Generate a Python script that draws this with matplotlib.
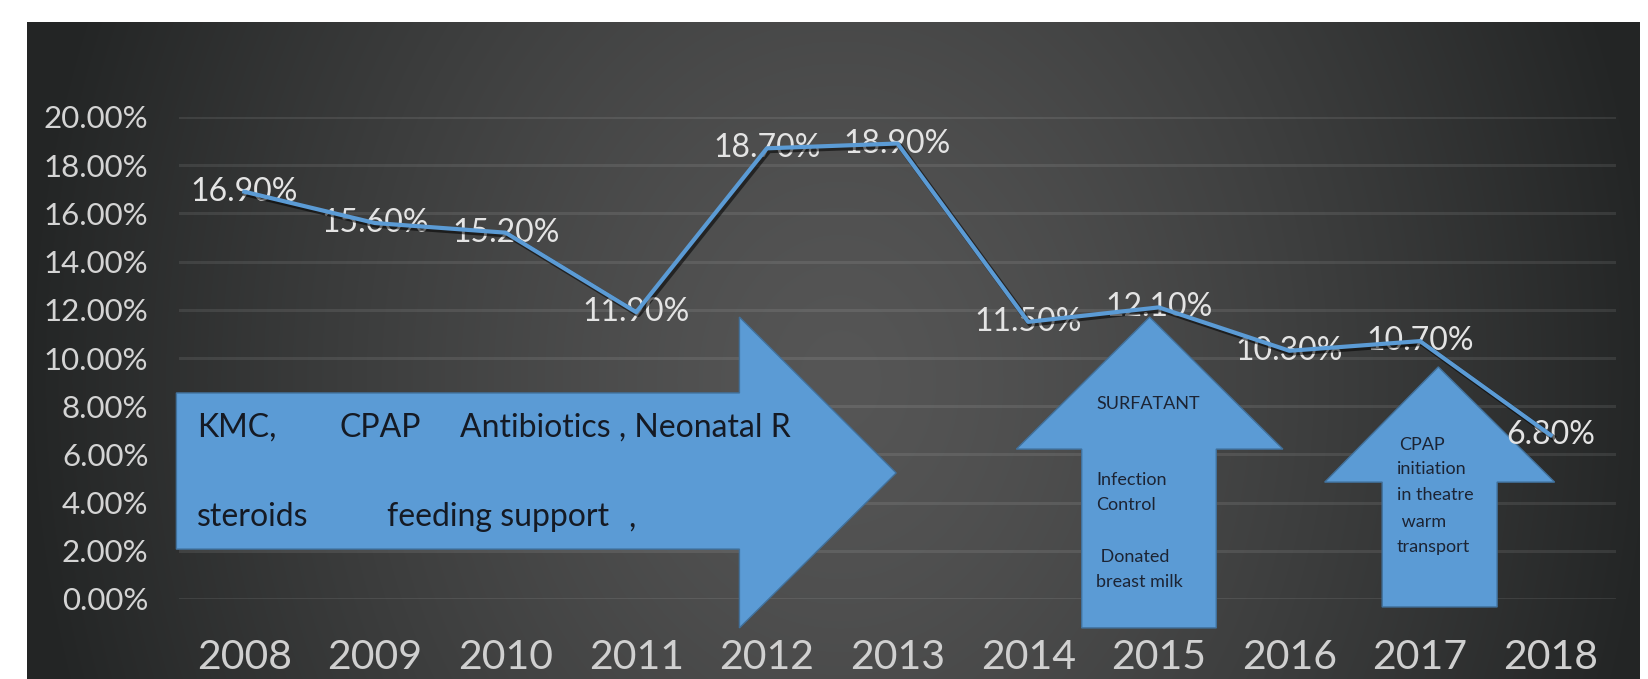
import numpy as np
import matplotlib
matplotlib.use("Agg")
import matplotlib.pyplot as plt
from matplotlib.patches import Polygon
import matplotlib.patheffects as pe

# ---------------- data ----------------
years = ["2008", "2009", "2010", "2011", "2012", "2013", "2014", "2015", "2016", "2017", "2018"]
rates = [16.9, 15.6, 15.2, 11.9, 18.7, 18.9, 11.5, 12.1, 10.3, 10.7, 6.8]
yticks = [0, 2, 4, 6, 8, 10, 12, 14, 16, 18, 20]

big_arrow_texts = [
    ("KMC,", -0.36, 7.10),
    ("CPAP", 0.73, 7.10),
    ("Antibiotics , Neonatal R", 1.65, 7.10),
    ("steroids", -0.36, 3.40),
    ("feeding support", 1.09, 3.40),
    (",", 2.94, 3.40),
]
arrow1_texts = [
    ("SURFATANT", 6.52, 8.1),
    ("Infection", 6.52, 4.95),
    ("Control", 6.52, 3.9),
    (" Donated", 6.52, 1.75),
    ("breast milk", 6.52, 0.7),
]
arrow2_texts = [
    ("CPAP", 8.84, 6.4),
    ("initiation", 8.82, 5.4),
    ("in theatre", 8.82, 4.3),
    (" warm", 8.82, 3.2),
    ("transport", 8.82, 2.15),
]

FONT = ["Lato", "DejaVu Sans"]
W, H = 1648, 679
fig = plt.figure(figsize=(W / 100, H / 100), dpi=100, facecolor="white")

# ---------------- dark gradient panel ----------------
px0, px1, py0, py1 = 27, 1640, 22, 679
bg = fig.add_axes([px0 / W, 0, (px1 - px0) / W, (py1 - py0) / H])
bg.set_axis_off()
xx, yy = np.meshgrid(np.arange(px0, px1), np.arange(py0, py1))
d = np.sqrt(((xx - 840) / 820.0) ** 2 + ((yy - 380) / 1000.0) ** 2)
t = np.clip(d, 0, 1) ** 1.3
c_in = np.array([0x56, 0x56, 0x56]) / 255.0
c_out = np.array([0x23, 0x25, 0x25]) / 255.0
img = c_in[None, None, :] * (1 - t[..., None]) + c_out[None, None, :] * t[..., None]
bg.imshow(img, aspect="auto", extent=[0, 1, 0, 1], origin="upper")
bg.set_xlim(0, 1)
bg.set_ylim(0, 1)

# ---------------- main axes ----------------
ax = fig.add_axes([179 / W, (H - 599) / H, (1616 - 179) / W, (599 - 117) / H])
ax.set_facecolor("none")
x = np.arange(len(years))
ax.set_xlim(-0.5, len(years) - 0.5)
ax.set_ylim(0, 20)
for s in ax.spines.values():
    s.set_visible(False)
ax.set_yticks(yticks)
ax.set_yticklabels([f"{v:.2f}%" for v in yticks], fontsize=22.5, color="#d4d4d4", family=FONT)
ax.set_xticks(x)
ax.set_xticklabels(years, fontsize=29.5, color="#d0d0d0", family=FONT)
ax.tick_params(axis="y", length=0, pad=22)
ax.tick_params(axis="x", length=0, pad=29)
ax.grid(axis="y", color="#ffffff", alpha=0.09, linewidth=2.2)
ax.set_axisbelow(True)

ARROW_FC = "#5b9bd5"
ARROW_EC = "#41719c"

# big right arrow
big = [(-0.52, 8.55), (3.79, 8.55), (3.79, 11.70), (4.99, 5.23),
       (3.79, -1.20), (3.79, 2.07), (-0.52, 2.07)]
ax.add_patch(Polygon(big, closed=True, facecolor=ARROW_FC, edgecolor=ARROW_EC,
                     linewidth=1.0, clip_on=False, zorder=2))
# up arrow 2015
up1 = [(6.93, 11.70), (7.95, 6.22), (7.44, 6.22), (7.44, -1.20),
       (6.41, -1.20), (6.41, 6.22), (5.91, 6.22)]
ax.add_patch(Polygon(up1, closed=True, facecolor=ARROW_FC, edgecolor=ARROW_EC,
                     linewidth=1.0, clip_on=False, zorder=2))
# up arrow 2017
up2 = [(9.14, 9.63), (10.03, 4.85), (9.59, 4.85), (9.59, -0.33),
       (8.71, -0.33), (8.71, 4.85), (8.27, 4.85)]
ax.add_patch(Polygon(up2, closed=True, facecolor=ARROW_FC, edgecolor=ARROW_EC,
                     linewidth=1.0, clip_on=False, zorder=2))

for txt, tx, ty in big_arrow_texts:
    ax.text(tx, ty, txt, fontsize=23, color="#151a24", family=FONT,
            ha="left", va="center", zorder=3, clip_on=False)
for txt, tx, ty in arrow1_texts + arrow2_texts:
    ax.text(tx, ty, txt, fontsize=13, color="#1c2434", family=FONT,
            ha="left", va="center", zorder=3, clip_on=False)

# data labels
for xi, v in zip(x, rates):
    ax.text(xi, v, f"{v:.2f}%", fontsize=23, color="#e4e4e4", family=FONT,
            ha="center", va="center", zorder=4)

# line with shadow
ax.plot(x, rates, color="#5b9bd5", linewidth=3.0, solid_joinstyle="round", zorder=5,
        path_effects=[pe.SimpleLineShadow(offset=(1.5, -1.5), shadow_color="black",
                                          alpha=0.55, linewidth=4.0),
                      pe.Normal()])

fig.savefig("out.png", dpi=100, facecolor="white")
